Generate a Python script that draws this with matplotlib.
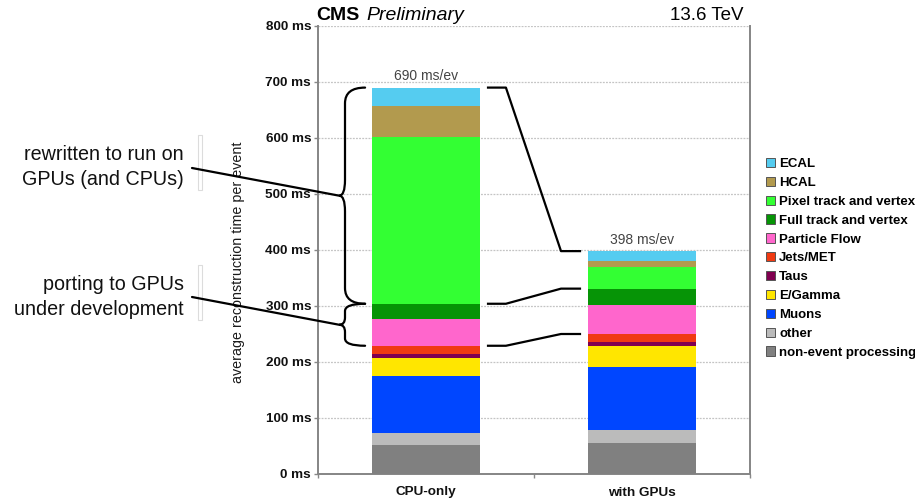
import matplotlib
matplotlib.use("Agg")
import matplotlib.pyplot as plt
import numpy as np
from matplotlib.patches import Patch, PathPatch, Rectangle, ConnectionPatch
from matplotlib.path import Path
from matplotlib.ticker import FuncFormatter, FixedLocator

plt.rcParams['font.family'] = ['Liberation Sans', 'DejaVu Sans']

# Reconstruction time per event, ms, stacked bottom to top
categories = ['CPU-only', 'with GPUs']
components = ['non-event processing', 'other', 'Muons', 'E/Gamma', 'Taus',
              'Jets/MET', 'Particle Flow', 'Full track and vertex',
              'Pixel track and vertex', 'HCAL', 'ECAL']
cpu_only = [52, 21, 102, 33, 6, 15, 47, 28, 297, 57, 32]
with_gpus = [56, 22, 113, 37, 7, 15, 51, 30, 39, 10, 18]
colors = ['#808080', '#bbbbbb', '#0046ff', '#ffe600', '#800050',
          '#f03a12', '#ff66cc', '#069406', '#33ff33', '#b29a4e', '#55ccf0']
y_ticks = [0, 100, 200, 300, 400, 500, 600, 700, 800]

fig = plt.figure(figsize=(9.15, 4.99), dpi=100)
ax = fig.add_axes([318 / 915, 1 - 474 / 499, 432 / 915, 448 / 499])

x = np.arange(len(categories))
width = 0.5
values = np.array([cpu_only, with_gpus])
bottoms = np.zeros(len(categories))
for i, name in enumerate(components):
    ax.bar(x, values[:, i], width, bottom=bottoms, color=colors[i],
           edgecolor='none', zorder=3)
    bottoms += values[:, i]
totals = values.sum(axis=1)
cum = np.cumsum(values, axis=1)

for xi, tot in zip(x, totals):
    ax.annotate(f"{tot:.0f} ms/ev", (xi, tot), xytext=(0, 8.2),
                textcoords='offset points', ha='center', va='center',
                fontsize=10, color='#444444')

ax.set_xlim(-0.5, 1.5)
ax.set_ylim(0, 800)
ax.yaxis.set_major_locator(FixedLocator(y_ticks))
ax.yaxis.set_major_formatter(FuncFormatter(lambda v, p: f"{v:.0f} ms"))
ax.set_xticks(x)
ax.set_xticklabels(categories)
ax.xaxis.set_minor_locator(FixedLocator([-0.5, 0.5, 1.5]))
ax.tick_params(axis='x', which='major', length=0, pad=9)
ax.tick_params(axis='x', which='minor', length=3, color='#888888', width=1)
ax.tick_params(axis='y', length=3, color='#888888', width=1, pad=2)
for lab in ax.get_xticklabels() + ax.get_yticklabels():
    lab.set_fontweight('bold')
    lab.set_fontsize(9.7)
    lab.set_color('#111111')

ax.grid(axis='y', color='#c4c4c4', linestyle=(0, (1.5, 1)), linewidth=0.9, zorder=0)
ax.set_axisbelow(True)
ax.spines['top'].set_visible(False)
for s in ['left', 'right', 'bottom']:
    ax.spines[s].set_color('#858585')
    ax.spines[s].set_linewidth(1.4)


def brace(y_top, y_bot, r, x_tip=-0.282, x_sp=-0.375, x_cu=-0.402):
    y_mid = 0.5 * (y_top + y_bot)
    verts = [(x_tip, y_top), (x_sp, y_top), (x_sp, y_top - r),
             (x_sp, y_mid + r), (x_sp, y_mid), (x_cu, y_mid),
             (x_sp, y_mid), (x_sp, y_mid - r),
             (x_sp, y_bot + r), (x_sp, y_bot), (x_tip, y_bot)]
    codes = [Path.MOVETO, Path.CURVE3, Path.CURVE3,
             Path.LINETO, Path.CURVE3, Path.CURVE3,
             Path.CURVE3, Path.CURVE3,
             Path.LINETO, Path.CURVE3, Path.CURVE3]
    ax.add_patch(PathPatch(Path(verts, codes), facecolor='none',
                           edgecolor='black', lw=1.6, zorder=5,
                           clip_on=False, capstyle='round'))
    return x_cu, y_mid


# braces grouping the rewritten modules and the ones being ported
full_top = cum[0, components.index('Full track and vertex')]
jets_top = cum[0, components.index('Jets/MET')]
c1 = brace(totals[0], full_top, 28)
c2 = brace(full_top, jets_top, 13)

# connectors between matching levels of the two bars
for key in ['ECAL', 'Full track and vertex', 'Jets/MET']:
    k = components.index(key)
    ya, yb = cum[0, k], cum[1, k]
    ax.plot([0.282, 0.37, 0.625, 0.718], [ya, ya, yb, yb], color='black',
            lw=1.6, zorder=5, solid_capstyle='butt')

# side notes
fig.text(184 / 915, 1 - 167 / 499, "rewritten to run on\nGPUs (and CPUs)",
         ha='right', va='center', fontsize=14.2, linespacing=1.42, color='#111111')
fig.text(184 / 915, 1 - 297 / 499, "porting to GPUs\nunder development",
         ha='right', va='center', fontsize=14.2, linespacing=1.42, color='#111111')
for (pa, pb) in [((192, 168), c1), ((192, 297), c2)]:
    con = ConnectionPatch(xyA=(pa[0] / 915, 1 - pa[1] / 499), coordsA='figure fraction',
                          xyB=pb, coordsB='data', axesB=ax, color='black', lw=1.6,
                          zorder=6)
    fig.add_artist(con)
for top, bot in [(135, 190), (265, 320)]:
    fig.add_artist(Rectangle((198 / 915, 1 - bot / 499), 4 / 915, (bot - top) / 499,
                             transform=fig.transFigure, facecolor='none',
                             edgecolor='#dcdcdc', lw=0.8))

fig.text(238 / 915, 1 - 262 / 499, "average reconstruction time per event",
         rotation=90, ha='center', va='center', fontsize=10.3, color='#1a1a1a')

# header
fig.text(316 / 915, 1 - 20.5 / 499, "CMS", fontsize=14, fontweight='bold',
         ha='left', va='baseline')
fig.text(366 / 915, 1 - 20.5 / 499, "Preliminary", fontsize=14, style='italic',
         ha='left', va='baseline')
fig.text(744 / 915, 1 - 20.5 / 499, "13.6 TeV", fontsize=13.5,
         ha='right', va='baseline')

handles = [Patch(facecolor=colors[i], edgecolor='#555555', lw=0.7, label=components[i])
           for i in range(len(components) - 1, -1, -1)]
fig.legend(handles=handles, loc='upper left', bbox_to_anchor=(766 / 915, 1 - 158 / 499),
           frameon=False, handlelength=0.7, handleheight=0.7,
           handletextpad=0.3, labelspacing=0.5, borderpad=0, borderaxespad=0,
           prop={'weight': 'bold', 'size': 9.5})

fig.savefig('out.png', dpi=100)
